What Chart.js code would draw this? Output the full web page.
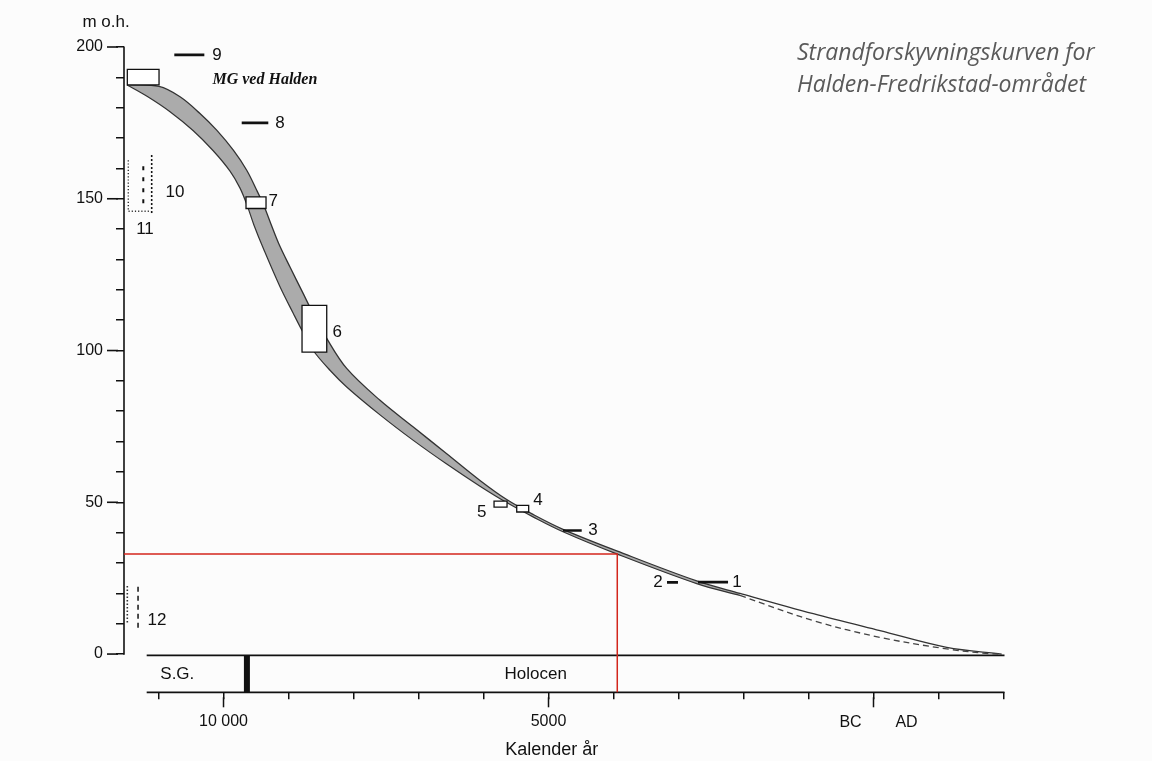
<!DOCTYPE html>
<html lang="no">
<head>
<meta charset="utf-8">
<title>Strandforskyvningskurven</title>
<script src="https://cdn.jsdelivr.net/npm/chart.js@4.4.0/dist/chart.umd.min.js"></script>
<style>
  body { margin: 0; background: #fcfcfc; }
  #box { width: 1152px; height: 761px; }
</style>
</head>
<body>
<div id="box"><canvas id="shoreChart"></canvas></div>
<script>
// calendar years: negative = BC, positive = AD. heights in m o.h.
const upperYears = [-11485, -10992, -10669, -10362, -10105, -9849, -9643, -9489, -9377, -9269, -9146, -8977, -8777, -8638, -8412, -8105, -7592, -7080, -6566, -6054, -5643, -5238, -4777, -3951, -2720, -2054, -926, 100, 1126, 1972];
const upperHeights = [187.5, 187.0, 183.6, 178.1, 172.6, 166.0, 159.4, 152.8, 147.6, 141.6, 135.0, 127.5, 118.9, 112.9, 104.0, 94.1, 83.6, 74.8, 66.0, 57.2, 50.9, 46.0, 41.1, 34.0, 24.1, 20.0, 13.3, 7.7, 2.2, 0];

const lowerYears = [-11485, -11177, -10823, -10469, -10162, -9900, -9746, -9638, -9531, -9377, -9131, -8926, -8777, -8623, -8362, -8105, -7592, -7080, -6566, -6054, -5643, -5238, -4777, -3951, -2720, -2054];
const lowerHeights = [187.5, 183.8, 178.7, 172.5, 165.9, 159.1, 153.5, 147.9, 141.3, 133.1, 121.0, 112.2, 106.0, 100.1, 93.5, 88.0, 78.8, 70.4, 62.6, 55.3, 49.9, 45.2, 40.3, 33.0, 23.2, 19.3];

// dashed alternative for the last part
const tailYears = [-2054, -926, 100, 1126, 1792, 1972];
const tailHeights = [19.3, 11.0, 5.5, 1.7, 0.1, 0];

// dated samples shown as boxes (MG, 7, 6, 5, 4)
const boxYears = [[-11480, -10992], [-9654, -9346], [-8792, -8412], [-5838, -5638], [-5489, -5305]];
const boxHeights = [[187.5, 192.6], [146.8, 150.6], [99.5, 114.9], [48.4, 50.4], [46.8, 49.0]];

// single levels (9, 8, 3, 2, 1)
const levelYears = [[-10757, -10295], [-9720, -9311], [-4777, -4489], [-3177, -3008], [-2700, -2238]];
const levelHeights = [197.4, 175.0, 40.7, 23.6, 23.7];

// 10, 11 and 12: ranges close to the axis
const site10Years = [-11234, -11105];
const site10Heights = [[148.5, 162.2], [145.3, 165.0]];
const site11Years = [-11465, -11131];
const site11Heights = [145.9, 162.7];
const site12Years = [-11315, -11480];
const site12Heights = [[8.7, 23.2], [10.4, 22.6]];

// red reading lines
const markYear = -3942;
const markHeight = 33.0;

const timelineStart = -11182;
const holoceneStart = -9640;

const yTicks = [0, 10, 20, 30, 40, 50, 60, 70, 80, 90, 100, 110, 120, 130, 140, 150, 160, 170, 180, 190, 200];
const xTicks = [-11000, -10000, -9000, -8000, -7000, -6000, -5000, -4000, -3000, -2000, -1000, 0, 1000, 2000];
const xTickLabels = {'-10000': '10 000', '-5000': '5000'};

const notes = [
    {text: '9', x: -10100, y: 197.4},
    {text: '8', x: -9131, y: 174.8},
    {text: '7', x: -9234, y: 149.2},
    {text: '6', x: -8249, y: 106.1},
    {text: '5', x: -6028, y: 46.8},
    {text: '4', x: -5162, y: 50.6},
    {text: '3', x: -4315, y: 40.7},
    {text: '2', x: -3315, y: 23.6},
    {text: '1', x: -2100, y: 23.7},
    {text: '10', x: -10746, y: 152.0},
    {text: '11', x: -11208, y: 139.9},
    {text: '12', x: -11023, y: 11.0},
];

const black = '#111';
const sans = '"Liberation Sans", Arial, Helvetica, sans-serif';

function pairs(xs, ys) {
    return xs.map((v, i) => ({x: v, y: ys[i]}));
}

const datasets = [];
// band: upper edge fills down to the lower edge (next dataset)
datasets.push({
    data: pairs(upperYears, upperHeights),
    borderColor: '#333', borderWidth: 1.3,
    backgroundColor: '#ababab', fill: '+1',
    tension: 0.35, order: 10
});
datasets.push({
    data: pairs(lowerYears, lowerHeights),
    borderColor: '#333', borderWidth: 1.2, fill: false,
    tension: 0.35, order: 9
});
datasets.push({
    data: pairs(tailYears, tailHeights),
    borderColor: '#444', borderWidth: 1.3, borderDash: [6, 4], fill: false,
    tension: 0.35, order: 8
});

boxYears.forEach((yr, i) => {
    const h = boxHeights[i];
    datasets.push({
        data: [{x: yr[0], y: h[0]}, {x: yr[1], y: h[0]}, {x: yr[1], y: h[1]}, {x: yr[0], y: h[1]}, {x: yr[0], y: h[0]}],
        borderColor: black, borderWidth: 1.3, backgroundColor: '#ffffff',
        fill: 'shape', tension: 0, borderJoinStyle: 'miter', borderCapStyle: 'square', order: 1
    });
});

levelYears.forEach((yr, i) => {
    datasets.push({
        data: [{x: yr[0], y: levelHeights[i]}, {x: yr[1], y: levelHeights[i]}],
        borderColor: black, borderWidth: 2.6, fill: false, tension: 0, order: 2
    });
});

// 10: two broken columns
datasets.push({
    data: [{x: site10Years[0], y: site10Heights[0][0]}, {x: site10Years[0], y: site10Heights[0][1]}],
    borderColor: black, borderWidth: 2, borderDash: [4, 7], fill: false, tension: 0, order: 3
});
datasets.push({
    data: [{x: site10Years[1], y: site10Heights[1][0]}, {x: site10Years[1], y: site10Heights[1][1]}],
    borderColor: black, borderWidth: 1.6, borderDash: [2, 2], fill: false, tension: 0, order: 3
});
// 11: dotted corner
datasets.push({
    data: [{x: site11Years[0], y: site11Heights[1]}, {x: site11Years[0], y: site11Heights[0]}, {x: site11Years[1], y: site11Heights[0]}],
    borderColor: '#333', borderWidth: 1.4, borderDash: [1.2, 2], fill: false, tension: 0, order: 3
});
// 12
datasets.push({
    data: [{x: site12Years[0], y: site12Heights[0][0]}, {x: site12Years[0], y: site12Heights[0][1]}],
    borderColor: black, borderWidth: 1.5, borderDash: [5, 4], fill: false, tension: 0, order: 3
});
datasets.push({
    data: [{x: site12Years[1], y: site12Heights[1][0]}, {x: site12Years[1], y: site12Heights[1][1]}],
    borderColor: '#333', borderWidth: 1.6, borderDash: [1.5, 2], fill: false, tension: 0, order: 3
});

// red reading line
datasets.push({
    data: [{x: -11531, y: markHeight}, {x: markYear, y: markHeight}, {x: markYear, y: -12.6}],
    borderColor: '#d3261c', borderWidth: 1.5, fill: false, tension: 0, clip: false, order: 0
});

const extras = {
    id: 'extras',
    beforeDatasetsDraw(chart) {
        const ctx = chart.ctx, area = chart.chartArea;
        const x = chart.scales.x, y = chart.scales.y;
        ctx.save();
        ctx.strokeStyle = black;
        // y axis, stops at 0
        ctx.lineWidth = 1.6;
        ctx.beginPath();
        ctx.moveTo(area.left, y.getPixelForValue(200) - 0.5);
        ctx.lineTo(area.left, y.getPixelForValue(0) + 0.8);
        ctx.stroke();
        // long ticks every 50 m
        yTicks.filter(v => v % 50 === 0).forEach(v => {
            const py = y.getPixelForValue(v);
            ctx.beginPath();
            ctx.moveTo(area.left - 17, py);
            ctx.lineTo(area.left - 6, py);
            ctx.stroke();
        });
        // time band
        const bandTop = area.bottom - 37;
        const x0 = x.getPixelForValue(timelineStart);
        ctx.lineWidth = 1.8;
        ctx.beginPath();
        ctx.moveTo(x0, bandTop); ctx.lineTo(area.right + 1, bandTop);
        ctx.moveTo(x0, area.bottom); ctx.lineTo(area.right + 1, area.bottom);
        ctx.stroke();
        // Pleistocene / Holocene boundary
        ctx.lineWidth = 6;
        ctx.beginPath();
        ctx.moveTo(x.getPixelForValue(holoceneStart), bandTop);
        ctx.lineTo(x.getPixelForValue(holoceneStart), area.bottom);
        ctx.stroke();
        // long ticks at 10 000, 5000, 0
        ctx.lineWidth = 1.5;
        [-10000, -5000, 0].forEach(v => {
            const px = x.getPixelForValue(v);
            ctx.beginPath();
            ctx.moveTo(px, area.bottom + 5);
            ctx.lineTo(px, area.bottom + 15);
            ctx.stroke();
        });
        ctx.restore();
    },
    afterDatasetsDraw(chart) {
        const ctx = chart.ctx, area = chart.chartArea;
        const x = chart.scales.x, y = chart.scales.y;
        ctx.save();
        ctx.fillStyle = '#111';
        ctx.textBaseline = 'middle';
        ctx.textAlign = 'center';
        ctx.font = '17px ' + sans;
        notes.forEach(n => ctx.fillText(n.text, x.getPixelForValue(n.x), y.getPixelForValue(n.y)));

        ctx.textAlign = 'left';
        ctx.font = 'italic bold 16px "Liberation Serif", "Times New Roman", serif';
        ctx.fillText('MG ved Halden', x.getPixelForValue(-10170), y.getPixelForValue(189.1));

        ctx.textAlign = 'center';
        ctx.font = '17px ' + sans;
        ctx.fillText('m o.h.', area.left - 18, 22);
        ctx.fillText('S.G.', x.getPixelForValue(-10711), area.bottom - 18);
        ctx.fillText('Holocen', x.getPixelForValue(-5197), area.bottom - 18);
        ctx.font = '16px ' + sans;
        ctx.fillText('BC', x.getPixelForValue(0) - 23, 723);
        ctx.fillText('AD', x.getPixelForValue(0) + 33, 723);
        ctx.font = '18px ' + sans;
        ctx.fillText('Kalender år', x.getPixelForValue(-4950), 750);

        ctx.textAlign = 'left';
        ctx.textBaseline = 'alphabetic';
        ctx.fillStyle = '#5a5a5a';
        ctx.font = 'italic 23px "Open Sans", "Noto Sans", sans-serif';
        ctx.fillText('Strandforskyvningskurven for', 797, 60);
        ctx.fillText('Halden-Fredrikstad-området', 797, 92);
        ctx.restore();
    }
};

new Chart(document.getElementById('shoreChart'), {
    type: 'line',
    data: {datasets: datasets},
    options: {
        responsive: true,
        maintainAspectRatio: false,
        animation: false,
        layout: {padding: {left: 0, top: 47, right: 148.5, bottom: 0}},
        elements: {point: {radius: 0, hoverRadius: 0}},
        plugins: {legend: {display: false}, tooltip: {enabled: false}},
        scales: {
            x: {
                type: 'linear', min: -11531, max: 2000,
                afterFit: s => { s.height = 68.7; },
                afterBuildTicks: s => { s.ticks = xTicks.map(v => ({value: v})); },
                border: {display: false},
                grid: {drawOnChartArea: false, drawTicks: true, tickLength: 7, color: black, lineWidth: 1.5},
                ticks: {
                    padding: 12.5, maxRotation: 0, autoSkip: false, color: '#111',
                    font: {family: sans, size: 16},
                    callback: v => xTickLabels[v] || ''
                }
            },
            y: {
                type: 'linear', min: -12.6, max: 200,
                afterFit: s => { s.width = 124; },
                afterBuildTicks: s => { s.ticks = yTicks.map(v => ({value: v})); },
                border: {display: false},
                grid: {drawOnChartArea: false, drawTicks: true, tickLength: 8, color: black, lineWidth: 1.5},
                ticks: {
                    padding: 13, autoSkip: false, color: '#111',
                    font: {family: sans, size: 16},
                    callback: v => (v % 50 === 0 ? String(v) : '')
                }
            }
        }
    },
    plugins: [extras]
});
</script>
</body>
</html>
